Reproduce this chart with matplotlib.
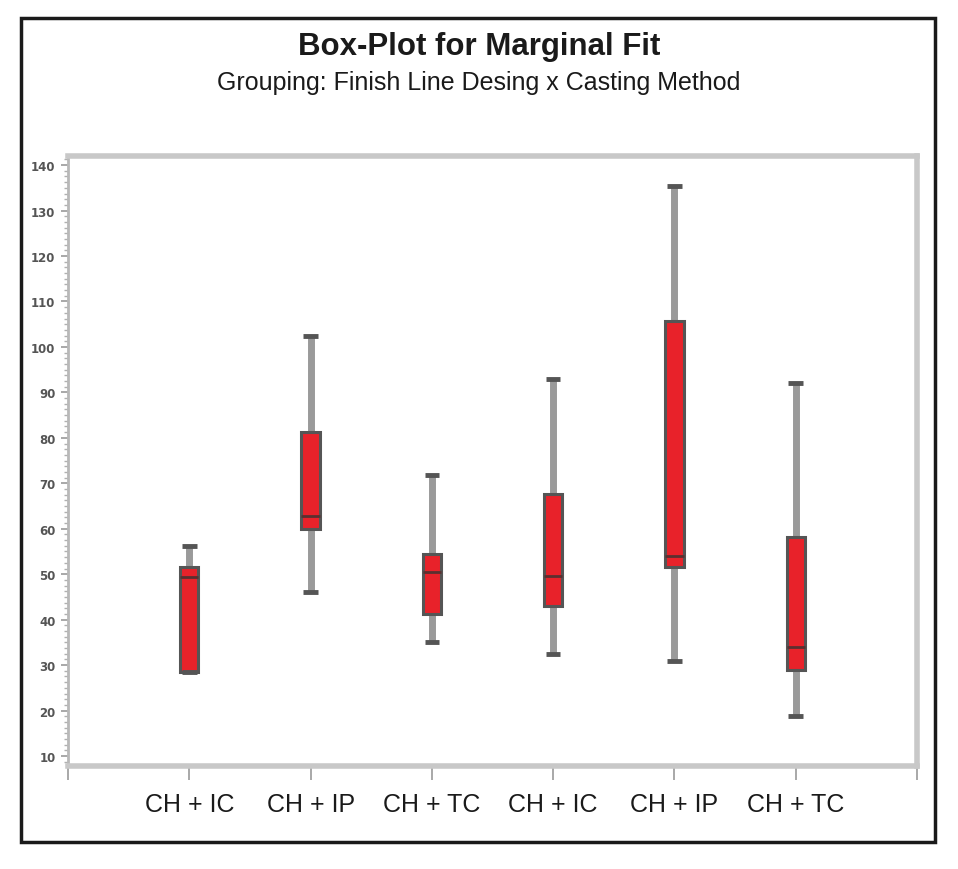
import matplotlib
matplotlib.use("Agg")
import matplotlib.pyplot as plt
from matplotlib.patches import Rectangle
from matplotlib.ticker import MultipleLocator

# ---- data ----
categories = ["CH + IC", "CH + IP", "CH + TC", "CH + IC", "CH + IP", "CH + TC"]
whisker_low = [28.5, 46.0, 35.1, 32.4, 30.9, 18.8]
q1 = [28.5, 59.9, 41.2, 43.0, 51.5, 28.9]
median = [49.3, 62.7, 50.4, 49.6, 54.0, 34.0]
q3 = [51.5, 81.2, 54.5, 67.6, 105.6, 58.1]
whisker_high = [56.2, 102.3, 71.8, 92.9, 135.3, 92.0]
y_ticks = [10, 20, 30, 40, 50, 60, 70, 80, 90, 100, 110, 120, 130, 140]

title = "Box-Plot for Marginal Fit"
subtitle = "Grouping: Finish Line Desing x Casting Method"

fig = plt.figure(figsize=(9.58, 8.7), dpi=100)
W, H = 958, 870

# outer black frame
fig.patches.append(Rectangle((21 / W, 1 - 843 / H), (935 - 21) / W, (843 - 19) / H,
                             transform=fig.transFigure, fill=False,
                             edgecolor="#1a1a1a", linewidth=2.5, zorder=0))

ax = fig.add_axes([68 / W, 1 - 767 / H, (917 - 68) / W, (767 - 157) / H])

stats = []
for i in range(len(categories)):
    stats.append(dict(whislo=whisker_low[i], q1=q1[i], med=median[i],
                      q3=q3[i], whishi=whisker_high[i], label=categories[i]))

ax.bxp(stats, positions=list(range(1, len(categories) + 1)), widths=0.15,
       showfliers=False, patch_artist=True,
       boxprops=dict(facecolor="#e8222a", edgecolor="#555555", linewidth=2.2, zorder=4),
       medianprops=dict(color="#5a3030", linewidth=2.0, zorder=5),
       whiskerprops=dict(color="#9a9a9a", linewidth=5, solid_capstyle="butt", zorder=3),
       capprops=dict(color="#555555", linewidth=3.5, solid_capstyle="butt", zorder=4),
       capwidths=0.12)

ax.set_xlim(0, 7)
ax.set_ylim(7.8, 142)
ax.set_xticks(range(0, 8))
ax.set_xticklabels([""] + categories + [""],
                   fontsize=18, color="#1a1a1a", family="Liberation Sans")
ax.tick_params(axis="x", length=10, width=1.2, color="#9a9a9a", pad=9)

ax.set_yticks(y_ticks)
ax.set_yticklabels([str(v) for v in y_ticks], fontsize=8.5, color="#555555",
                   fontweight="bold")
ax.yaxis.set_minor_locator(MultipleLocator(1.25))
ax.tick_params(axis="y", which="major", length=5, width=1.2, color="#9a9a9a", pad=4)
ax.tick_params(axis="y", which="minor", length=3, width=1.0, color="#b0b0b0")

for side in ["top", "right", "bottom", "left"]:
    ax.spines[side].set_color("#c8c8c8")
    ax.spines[side].set_linewidth(4)
ax.spines["left"].set_linewidth(2)
ax.spines["left"].set_color("#b8b8b8")

fig.text(479 / W, 1 - 47 / H, title, ha="center", va="center",
         fontsize=22.5, fontweight="bold", color="#1a1a1a", family="Liberation Sans")
fig.text(479 / W, 1 - 83 / H, subtitle, ha="center", va="center",
         fontsize=18, color="#1a1a1a", family="Liberation Sans")

fig.savefig("out.png", dpi=100)
